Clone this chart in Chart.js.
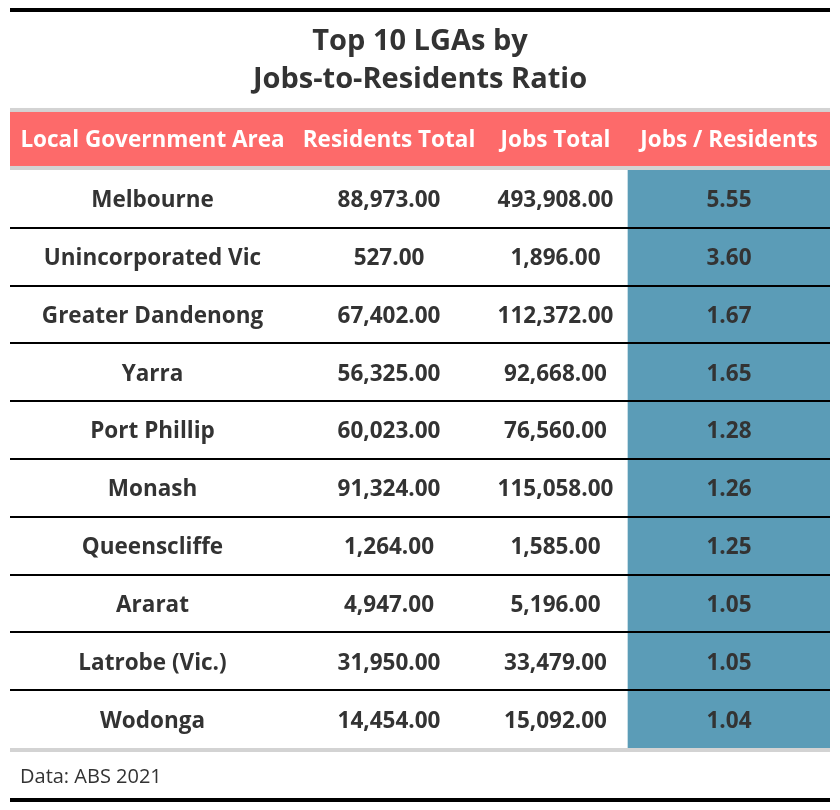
<!DOCTYPE html>
<html>
<head>
<meta charset="UTF-8">
<title>Top 10 LGAs by Jobs-to-Residents Ratio</title>
<script src="https://cdn.jsdelivr.net/npm/chart.js@4.4.1/dist/chart.umd.min.js"></script>
<style>
  html, body { margin: 0; padding: 0; background: #fff; }
  #wrap { width: 840px; height: 810px; }
</style>
</head>
<body>
<div id="wrap"><canvas id="myChart" width="840" height="810"></canvas></div>
<script>
// table data
const headers = ['Local Government Area', 'Residents Total', 'Jobs Total', 'Jobs / Residents'];
const lgas = ['Melbourne', 'Unincorporated Vic', 'Greater Dandenong', 'Yarra', 'Port Phillip',
              'Monash', 'Queenscliffe', 'Ararat', 'Latrobe (Vic.)', 'Wodonga'];
const residents = [88973, 527, 67402, 56325, 60023, 91324, 1264, 4947, 31950, 14454];
const jobs = [493908, 1896, 112372, 92668, 76560, 115058, 1585, 5196, 33479, 15092];
const ratio = [5.55, 3.60, 1.67, 1.65, 1.28, 1.26, 1.25, 1.05, 1.05, 1.04];
const titleLines = ['Top 10 LGAs by', 'Jobs-to-Residents Ratio'];
const footnote = 'Data: ABS 2021';

// layout (px within the chart area, left to right)
const colEdges = [0, 285, 473, 618, 820];
const FONT = '"Open Sans", "Noto Sans", sans-serif';
const TEXT = '#333333';
const RED = '#FD6A6A';
const BLUE = '#5B9CB7';
const GREY = '#D3D3D3';

const fmt2 = v => v.toLocaleString('en-US', { minimumFractionDigits: 2, maximumFractionDigits: 2 });

// cell text, header row, rules and footer
const tablePlugin = {
    id: 'tableText',
    afterDatasetsDraw(chart) {
        const { ctx, chartArea: ca, scales: { x, y } } = chart;
        const colMid = c => x.getPixelForValue((colEdges[c] + colEdges[c + 1]) / 2);
        const rowH = y.getPixelForValue(1) - y.getPixelForValue(0);

        ctx.save();
        // header
        const hTop = ca.top - 62;
        ctx.fillStyle = GREY;
        ctx.fillRect(ca.left, hTop, ca.width, 4);
        ctx.fillRect(ca.left, ca.top - 4, ca.width, 4);
        ctx.fillStyle = RED;
        ctx.fillRect(ca.left, hTop + 4, ca.width, 54);
        ctx.fillStyle = '#ffffff';
        ctx.font = 'bold 22.5px ' + FONT;
        ctx.textAlign = 'center';
        ctx.textBaseline = 'middle';
        headers.forEach((h, c) => ctx.fillText(h, colMid(c), hTop + 33));

        // body text
        ctx.fillStyle = TEXT;
        ctx.font = 'bold 22.5px ' + FONT;
        lgas.forEach((name, i) => {
            const cy = y.getPixelForValue(i) + 2;
            ctx.fillText(name, colMid(0), cy);
            ctx.fillText(fmt2(residents[i]), colMid(1), cy);
            ctx.fillText(fmt2(jobs[i]), colMid(2), cy);
            ctx.fillText(ratio[i].toFixed(2), colMid(3), cy);
        });

        // row rules
        ctx.fillStyle = '#000000';
        for (let i = 1; i < lgas.length; i++) {
            const ly = y.getPixelForValue(i) - rowH / 2;
            ctx.fillRect(ca.left, Math.round(ly) - 1, ca.width, 2);
        }
        ctx.fillStyle = GREY;
        ctx.fillRect(ca.left, ca.bottom, ca.width, 4);

        // outer rules
        ctx.fillStyle = '#000000';
        ctx.fillRect(ca.left, 8, ca.width, 4);
        ctx.fillRect(ca.left, 798, ca.width, 4);

        // footer
        ctx.fillStyle = TEXT;
        ctx.font = '20px ' + FONT;
        ctx.textAlign = 'left';
        ctx.fillText(footnote, 20, ca.bottom + 29);
        ctx.restore();
    }
};

new Chart(document.getElementById('myChart'), {
    type: 'bar',
    data: {
        labels: lgas,
        datasets: [{
            label: headers[3],
            data: ratio.map(() => [colEdges[3], colEdges[4]]),
            backgroundColor: BLUE,
            borderWidth: 0,
            barPercentage: 1,
            categoryPercentage: 1
        }]
    },
    options: {
        indexAxis: 'y',
        responsive: false,
        animation: false,
        layout: { padding: { left: 10, right: 10, top: 0, bottom: 62 } },
        scales: {
            x: { display: false, min: colEdges[0], max: colEdges[4] },
            y: { display: false }
        },
        plugins: {
            legend: { display: false },
            tooltip: { enabled: false },
            title: {
                display: true,
                text: titleLines,
                color: TEXT,
                font: { family: FONT, size: 29, weight: 'bold', lineHeight: 1.31 },
                padding: { top: 23, bottom: 71 }
            }
        }
    },
    plugins: [tablePlugin]
});
</script>
</body>
</html>
